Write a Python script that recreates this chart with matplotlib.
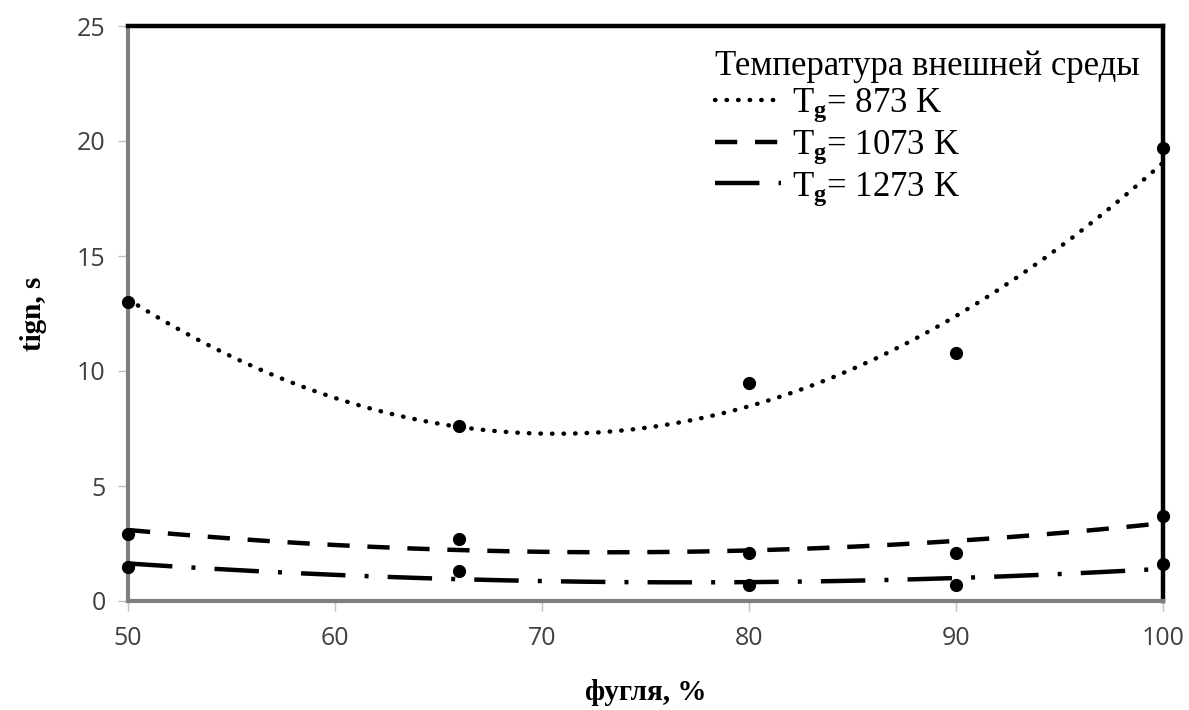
import numpy as np
import matplotlib
matplotlib.use("Agg")
import matplotlib.pyplot as plt

# Data
phi = [50, 66, 80, 90, 100]
t_873 = [13.0, 7.6, 9.5, 10.8, 19.7]
t_1073 = [2.9, 2.7, 2.1, 2.1, 3.7]
t_1273 = [1.5, 1.3, 0.7, 0.7, 1.6]
labels = ["T$_\\mathbf{g}$= 873 K", "T$_\\mathbf{g}$= 1073 K", "T$_\\mathbf{g}$= 1273 K"]
legend_title = "Температура внешней среды"
xticks = [50, 60, 70, 80, 90, 100]
yticks = [0, 5, 10, 15, 20, 25]

plt.rcParams['mathtext.fontset'] = 'custom'
plt.rcParams['mathtext.rm'] = 'Liberation Serif'
plt.rcParams['mathtext.bf'] = 'Liberation Serif:bold'
plt.rcParams['mathtext.it'] = 'Liberation Serif:italic'

fig = plt.figure(figsize=(11.89, 7.10), dpi=100)
ax = fig.add_axes([128/1189, 1-601/710, (1163-128)/1189, (601-26)/710])

lw = 3.2
styles = [
    dict(linestyle=(0, (0.1, 2.5)), dash_capstyle='round'),
    dict(linestyle=(0, (5.0, 4.0))),
    dict(linestyle=(0, (10.0, 4.3, 0.9, 4.3))),
]
xs = np.linspace(50, 100, 300)
handles = []
for ys, st, lab in zip([t_873, t_1073, t_1273], styles, labels):
    ax.plot(phi, ys, 'o', color='black', markersize=8.5, clip_on=False, zorder=5)
    c = np.polyfit(phi, ys, 2)
    h, = ax.plot(xs, np.polyval(c, xs), color='black', lw=lw, label=lab, clip_on=False, **st)
    handles.append(h)

ax.set_xlim(50, 100)
ax.set_ylim(0, 25)
ax.set_xticks(xticks)
ax.set_yticks(yticks)

for s in ['left', 'bottom']:
    ax.spines[s].set_color('#7f7f7f')
    ax.spines[s].set_linewidth(3.0)
for s in ['top', 'right']:
    ax.spines[s].set_color('black')
    ax.spines[s].set_linewidth(3.2)

ax.tick_params(axis='both', direction='out', length=7, width=1, color='#bfbfbf',
               labelsize=18, labelcolor='#404040')
for lbl in ax.get_xticklabels() + ax.get_yticklabels():
    lbl.set_fontfamily('Open Sans')
ax.tick_params(axis='x', pad=11)
ax.tick_params(axis='y', pad=9)

ax.set_xlabel("фугля, %", fontfamily='Liberation Serif', fontweight='bold', fontsize=21, labelpad=20)
ax.set_ylabel("tign, s", fontfamily='Liberation Serif', fontweight='bold', fontsize=21, labelpad=22)

leg = ax.legend(handles=handles, title=legend_title, loc='upper right',
                bbox_to_anchor=(0.998, 0.995), frameon=False,
                prop={'family': 'Liberation Serif', 'size': 25},
                title_fontproperties={'family': 'Liberation Serif', 'size': 25},
                handlelength=1.9, handletextpad=0.3, labelspacing=0.12,
                borderaxespad=0.2)
leg._legend_box.align = 'left'

fig.savefig('out.png', dpi=100, facecolor='white')
